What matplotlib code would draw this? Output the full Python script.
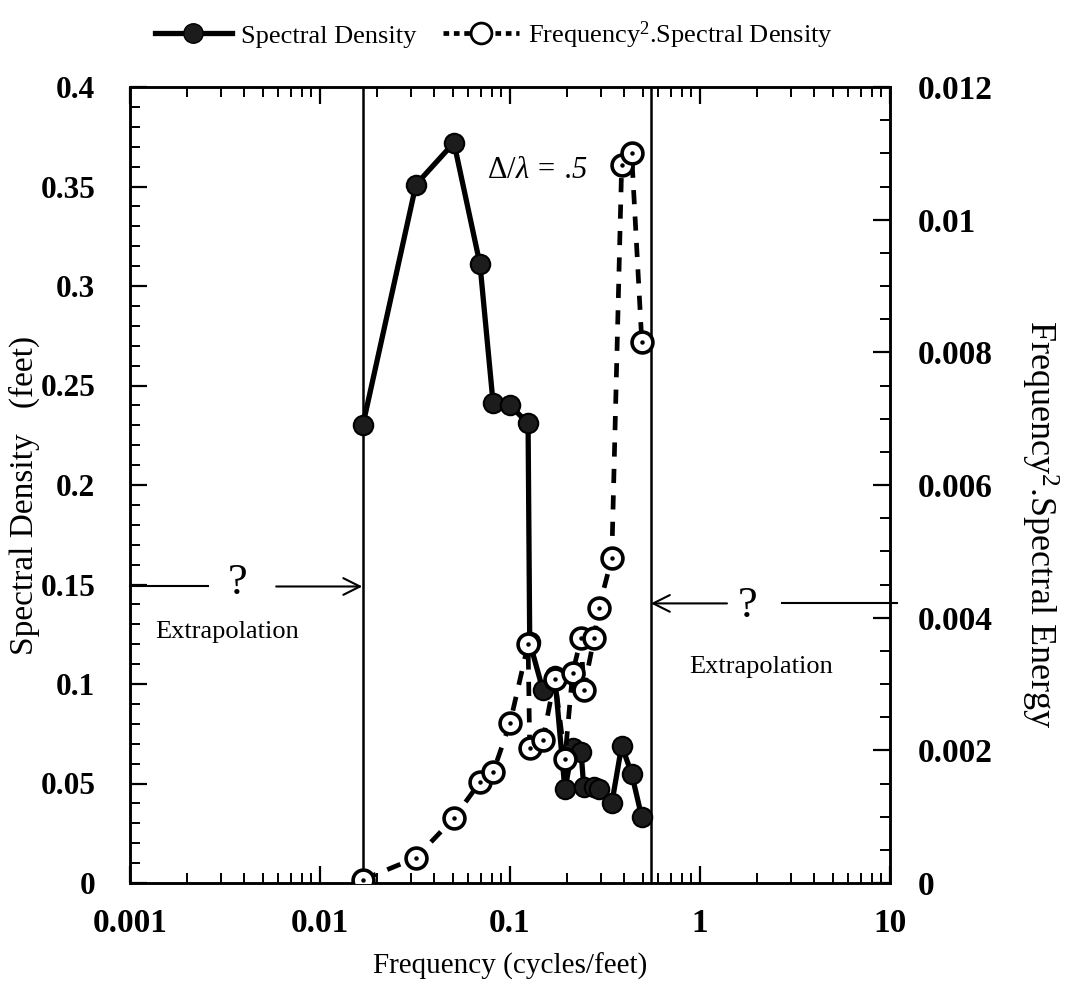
import matplotlib
matplotlib.use("Agg")
import matplotlib.pyplot as plt
from matplotlib.lines import Line2D
from matplotlib.font_manager import FontProperties
from matplotlib.ticker import MultipleLocator, LogLocator, NullFormatter

plt.rcParams['font.family'] = ['Liberation Serif', 'DejaVu Serif']
plt.rcParams['mathtext.fontset'] = 'custom'
plt.rcParams['mathtext.rm'] = 'Liberation Serif'
plt.rcParams['mathtext.it'] = 'Liberation Serif:italic'

# ---- data ----
freq = [0.0168, 0.0320, 0.0507, 0.0695, 0.0815, 0.1000, 0.1245, 0.1270,
        0.1490, 0.1720, 0.1945, 0.2136, 0.2366, 0.2445, 0.2767, 0.2940,
        0.3434, 0.3870, 0.4366, 0.4940]
spectral_density = [0.230, 0.351, 0.372, 0.311, 0.241, 0.240, 0.231, 0.121,
                    0.097, 0.104, 0.047, 0.068, 0.066, 0.048, 0.048, 0.047,
                    0.040, 0.069, 0.055, 0.033]
freq2_spectral = [0.00005, 0.00038, 0.00098, 0.00152, 0.00167, 0.00241, 0.00360,
                  0.00204, 0.00216, 0.00308, 0.00187, 0.00317, 0.00369, 0.00291,
                  0.00369, 0.00415, 0.00490, 0.01082, 0.01100, 0.00816]
data_limits = [0.0168, 0.55]

x_ticks = [0.001, 0.01, 0.1, 1, 10]
x_ticklabels = ['0.001', '0.01', '0.1', '1', '10']
y_left_ticks = [0, 0.05, 0.1, 0.15, 0.2, 0.25, 0.3, 0.35, 0.4]
y_left_labels = ['0', '0.05', '0.1', '0.15', '0.2', '0.25', '0.3', '0.35', '0.4']
y_right_ticks = [0, 0.002, 0.004, 0.006, 0.008, 0.01, 0.012]
y_right_labels = ['0', '0.002', '0.004', '0.006', '0.008', '0.01', '0.012']

fig = plt.figure(figsize=(10.65, 9.89), dpi=100)
fig.subplots_adjust(left=130/1065, right=890/1065, top=1-87/989, bottom=1-883/989)
ax = fig.add_subplot(111)
ax2 = ax.twinx()

ax.set_xscale('log')
ax.set_xlim(0.001, 10)
ax.set_ylim(0, 0.4)
ax2.set_ylim(0, 0.012)

dark = '#1c1c1c'
ax.plot(freq, spectral_density, '-', color='black', lw=3.8,
        marker='o', ms=14, mfc=dark, mec='black', mew=1.5, zorder=3)

ax2.plot(freq, freq2_spectral, color='black', lw=3.4, ls=(0, (3.0, 2.6)),
         marker='o', ms=15, mfc='white', mec='black', mew=2.6, zorder=3)
ax2.plot(freq, freq2_spectral, ls='none', marker='o', ms=2.2, mfc='black',
         mec='black', zorder=4)

for xv in data_limits:
    ax.axvline(xv, color='black', lw=1.8, zorder=2)

# ticks
ax.set_xticks(x_ticks)
ax.set_xticklabels(x_ticklabels)
ax.xaxis.set_minor_locator(LogLocator(base=10, subs=range(2, 10)))
ax.xaxis.set_minor_formatter(NullFormatter())
ax.set_yticks(y_left_ticks)
ax.set_yticklabels(y_left_labels)
ax.yaxis.set_minor_locator(MultipleLocator(0.01))
ax2.set_yticks(y_right_ticks)
ax2.set_yticklabels(y_right_labels)
ax2.yaxis.set_minor_locator(MultipleLocator(0.0005))

tick_fp = FontProperties(family='Liberation Serif', weight='bold', size=24)
tick_fp_left = FontProperties(family='Liberation Serif', weight='bold', size=22.5)
for lab in ax.get_xticklabels() + ax2.get_yticklabels():
    lab.set_fontproperties(tick_fp)
for lab in ax.get_yticklabels():
    lab.set_fontproperties(tick_fp_left)

ax.tick_params(axis='x', which='both', direction='in', top=True, bottom=True, pad=18)
ax.tick_params(axis='y', which='both', direction='in', left=True, right=False, pad=25)
ax2.tick_params(axis='y', which='both', direction='in', right=True, left=False, pad=20)
for a in (ax, ax2):
    a.tick_params(which='major', length=12, width=1.6)
    a.tick_params(which='minor', length=7, width=1.4)
    for s in a.spines.values():
        s.set_linewidth(1.8)

ax.set_xlabel('Frequency (cycles/feet)', fontsize=21, labelpad=10)
ax.set_ylabel('Spectral Density   (feet)', fontsize=24, va='center')
ax.yaxis.set_label_coords(-0.1395, 0.487)
ax2.set_ylabel('Frequency$^2$.Spectral Energy', fontsize=26, rotation=270, va='center')
ax2.yaxis.set_label_coords(1.197, 0.451)

# annotations
ax.text(0.139, 0.358, r'$\mathit{\Delta/\lambda}$ = .5', fontsize=22, style='italic',
        ha='center', va='center')

# left extrapolation arrow
ax.plot([0.001, 0.00257], [0.149, 0.149], color='black', lw=1.5, clip_on=False)
ax.annotate('', xy=(0.0167, 0.149), xytext=(0.00588, 0.149),
            arrowprops=dict(arrowstyle='->', color='black', lw=1.5,
                            mutation_scale=30, shrinkA=0, shrinkB=0))
ax.text(0.0037, 0.151, '?', fontsize=32, ha='center', va='center')
ax.text(0.00324, 0.126, 'Extrapolation', fontsize=19, ha='center', va='center')

# right extrapolation arrow
ax.annotate('', xy=(0.551, 0.1405), xytext=(1.387, 0.1405),
            arrowprops=dict(arrowstyle='->', color='black', lw=1.5,
                            mutation_scale=30, shrinkA=0, shrinkB=0))
ax.plot([2.70, 10.9], [0.1405, 0.1405], color='black', lw=1.5, clip_on=False)
ax.text(1.79, 0.139, '?', fontsize=32, ha='center', va='center')
ax.text(2.09, 0.1085, 'Extrapolation', fontsize=19, ha='center', va='center')

# legend
h1 = Line2D([], [], color='black', lw=3.8, marker='o', ms=14, mfc=dark, mec='black')
h2 = Line2D([], [], color='black', lw=3.4, ls=(0, (1.2, 1.0)), marker='o', ms=15,
            mfc='white', mec='black', mew=2.0)
fig.legend([h1, h2], ['Spectral Density', 'Frequency$^2$.Spectral Density'],
           loc='center', bbox_to_anchor=(0.464, 1-35/989), ncol=2, frameon=False,
           fontsize=19, handlelength=2.9, columnspacing=1.0, handletextpad=0.35)

fig.savefig('out.png', dpi=100)
